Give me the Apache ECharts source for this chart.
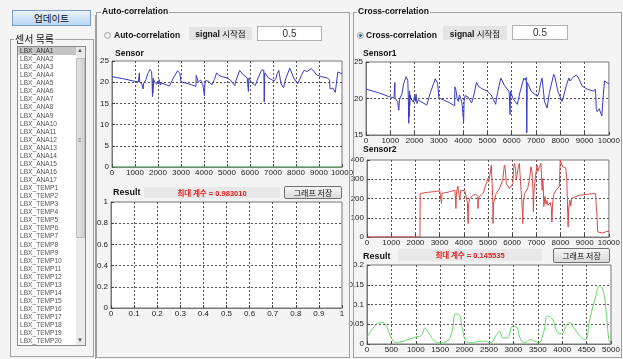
<!DOCTYPE html>
<html>
<head>
<meta charset="utf-8">
<script src="https://cdn.jsdelivr.net/npm/echarts@6/dist/echarts.min.js"></script>
<style>
  body { margin:0; width:623px; height:359px; overflow:hidden; background:#f4f4f4; position:relative;
         font-family:"Liberation Sans", Arial, "Noto Sans CJK KR", sans-serif; }
  .a { position:absolute; }
  .box { position:absolute; border:1px solid #a0a0a0; box-sizing:border-box; }
  .cap { position:absolute; background:#f4f4f4; padding:0 1px; font-weight:bold; font-size:8.5px; line-height:11px; color:#111; }
  .btn { position:absolute; box-sizing:border-box; border:1px solid #707070; border-radius:2px;
         background:linear-gradient(#f6f6f6,#dadada); font-family:"Noto Sans CJK KR",sans-serif; font-size:8px;
         text-align:center; color:#111; }
  .lbl { position:absolute; background:#e4e4e4; text-align:center; font-size:8.5px; color:#111; }
  .txt { position:absolute; box-sizing:border-box; background:#fff; border:1px solid #b0b0b0; text-align:center;
         font-size:10px; color:#333; }
  .res { position:absolute; background:#e8e8e8; text-align:center; color:#e02020; font-weight:bold; font-size:7.5px; }
  .title { position:absolute; font-weight:bold; font-size:8.5px; color:#111; }
  .radio { position:absolute; width:7px; height:7px; border-radius:50%; box-sizing:border-box;
           border:1px solid #a8a8a8; background:radial-gradient(#fff,#d8d8d8); }
  #list { position:absolute; left:17px; top:46px; width:69px; height:300px; background:#fff;
          border:1px solid #8a8a8a; box-sizing:border-box; overflow:hidden; }
  #list div { height:8.07px; line-height:8px; font-size:6.6px; color:#555; padding-left:2px; width:57px; white-space:nowrap; }
  #list div.sel { background:#c4c4c4; color:#333; }
  #chart { position:absolute; left:0; top:0; width:623px; height:359px; }
</style>
</head>
<body>
<div id="chart"></div>

<!-- left panel -->
<div class="a" style="left:12px;top:10px;width:79px;height:16px;box-sizing:border-box;border:1px solid #7a9cc6;background:linear-gradient(#eaf3fc,#b9d6f3);font-family:'Noto Sans CJK KR';font-size:9.5px;line-height:14px;text-align:center;color:#111;">업데이트</div>
<div class="box" style="left:10px;top:39px;width:84px;height:318px;"></div>
<div class="cap" style="left:14px;top:33px;font-family:'Noto Sans CJK KR';font-weight:normal;font-size:10px;">센서 목록</div>
<div id="list"></div>
<div class="a" style="left:76px;top:47px;width:9px;height:298px;background:#eaeaea;"></div>
<div class="a" style="left:76px;top:58px;width:9px;height:180px;box-sizing:border-box;border:1px solid #bdbdbd;background:linear-gradient(90deg,#e4e4e4,#d2d2d2);"></div>
<div class="a" style="left:77px;top:47px;font-size:6px;color:#555;">▲</div>
<div class="a" style="left:77px;top:337px;font-size:6px;color:#555;">▼</div>
<div class="a" style="left:78px;top:137px;font-size:6px;color:#777;line-height:6px;">≡</div>
<div class="a" style="left:95px;top:15px;width:1px;height:344px;background:#a0a0a0;"></div>

<!-- auto-correlation panel -->
<div class="box" style="left:96px;top:12px;width:254px;height:346px;"></div>
<div class="cap" style="left:101px;top:6px;">Auto-correlation</div>
<div class="radio" style="left:104px;top:32px;"></div>
<div class="title" style="left:114px;top:30px;">Auto-correlation</div>
<div class="lbl" style="left:189px;top:27px;width:63px;height:13px;line-height:13px;"><b>signal</b> <span style="font-family:'Noto Sans CJK KR'">시작점</span></div>
<div class="txt" style="left:257px;top:26px;width:65px;height:15px;line-height:13px;">0.5</div>
<div class="title" style="left:115px;top:48px;">Sensor</div>
<div class="title" style="left:113px;top:187px;font-size:9px;">Result</div>
<div class="res" style="left:144px;top:187px;width:136px;height:11px;line-height:11px;"><span style="font-family:'Noto Sans CJK KR'">최대 계수</span> = 0.983010</div>
<div class="btn" style="left:284px;top:186px;width:58px;height:13px;line-height:11px;">그래프 저장</div>

<!-- cross-correlation panel -->
<div class="box" style="left:353px;top:12px;width:269px;height:346px;"></div>
<div class="cap" style="left:357px;top:6px;">Cross-correlation</div>
<div class="radio" style="left:357px;top:32px;background:radial-gradient(#2a6f9a 30%,#cfe3ef 45%,#e8e8e8);"></div>
<div class="title" style="left:366px;top:30px;">Cross-correlation</div>
<div class="lbl" style="left:443px;top:26px;width:64px;height:14px;line-height:14px;"><b>signal</b> <span style="font-family:'Noto Sans CJK KR'">시작점</span></div>
<div class="txt" style="left:512px;top:25px;width:56px;height:15px;line-height:13px;">0.5</div>
<div class="title" style="left:363px;top:48px;">Sensor1</div>
<div class="title" style="left:363px;top:144px;">Sensor2</div>
<div class="title" style="left:363px;top:251px;font-size:9px;">Result</div>
<div class="res" style="left:398px;top:249px;width:144px;height:12px;line-height:12px;"><span style="font-family:'Noto Sans CJK KR'">최대 계수</span> = 0.145535</div>
<div class="btn" style="left:553px;top:248px;width:57px;height:15px;line-height:13px;">그래프 저장</div>

<script>
// sensor list
const sensorNames = [
  'LBX_ANA1','LBX_ANA2','LBX_ANA3','LBX_ANA4','LBX_ANA5','LBX_ANA6','LBX_ANA7','LBX_ANA8','LBX_ANA9',
  'LBX_ANA10','LBX_ANA11','LBX_ANA12','LBX_ANA13','LBX_ANA14','LBX_ANA15','LBX_ANA16','LBX_ANA17',
  'LBX_TEMP1','LBX_TEMP2','LBX_TEMP3','LBX_TEMP4','LBX_TEMP5','LBX_TEMP6','LBX_TEMP7','LBX_TEMP8',
  'LBX_TEMP9','LBX_TEMP10','LBX_TEMP11','LBX_TEMP12','LBX_TEMP13','LBX_TEMP14','LBX_TEMP15',
  'LBX_TEMP16','LBX_TEMP17','LBX_TEMP18','LBX_TEMP19','LBX_TEMP20'
];

// sensor 1 (temperature-like signal)
const sensorX = [0,500,1000,1150,1180,1190,1200,1250,1300,1350,1380,1420,1480,1550,1650,1700,1720,1740,1760,1770,
  1780,1790,1800,1820,1850,1900,1950,2000,2030,2060,2100,2150,2200,2500,2650,2850,2950,3000,3200,3450,
  3650,3660,3700,3750,3800,3850,3900,3950,4000,4020,4040,4080,4200,4350,4450,4550,4650,4800,5000,5150,
  5200,5340,5380,5550,5700,5880,5900,5930,5950,6050,6230,6350,6500,6560,6600,6620,6640,6700,6800,7050,
  7120,7190,7250,7350,7460,7550,7730,7780,7900,8070,8150,8250,8350,8400,8480,8520,8660,8750,8900,9100,
  9370,9420,9440,9460,9480,9520,9600,9710,9760,9820,9880,10000];
const sensorY = [21.3,20.8,20.2,20.1,20.0,22.2,20.0,19.9,19.6,18.4,19.8,20.2,20.6,22.0,23.0,23.2,22.5,20.5,16.6,19.5,
  17.5,21.0,19.0,20.5,20.0,19.8,19.5,20.3,19.6,20.6,19.3,19.8,19.6,19.1,20.8,22.7,22.1,20.1,19.8,19.4,
  19.0,21.6,21.2,20.0,19.6,20.5,20.0,19.4,19.2,16.8,19.6,20.4,20.2,19.4,20.6,22.2,21.6,21.3,21.0,20.5,
  20.4,19.2,20.2,22.8,21.8,21.0,20.6,17.8,21.0,20.0,19.2,21.0,22.8,22.5,22.9,15.3,22.2,21.8,21.0,20.3,
  20.8,22.1,22.8,19.6,18.7,20.8,23.3,22.9,21.0,19.6,20.5,21.8,22.8,22.4,22.5,22.9,23.2,22.8,21.7,21.3,
  21.0,20.8,21.3,20.5,18.5,18.2,18.6,17.6,20.0,22.4,22.3,22.0];

// sensor 2
const sensor2X = [0,2190,2200,2500,2800,3010,3060,3080,3100,3420,3630,3660,3675,3700,3760,3800,3840,3870,3950,4040,
  4120,4150,4180,4200,4250,4380,4500,4580,4590,4610,4800,4930,5000,5030,5070,5140,5180,5200,5210,5230,
  5340,5480,5610,5680,5720,5760,5890,6030,6060,6100,6140,6170,6200,6250,6300,6340,6370,6420,6440,6460,
  6510,6640,6710,6780,6820,6860,6880,6900,6960,7030,7060,7120,7190,7220,7240,7260,7290,7310,7360,7400,
  7440,7480,7530,7580,7620,7645,7670,7720,7810,7950,7990,8060,8090,8220,8260,8300,8315,8340,8385,8420,
  8460,8520,8770,9180,9450,9470,9480,9500,9510,9540,9730,9900,10000];
const sensor2Y = [0,0,226,232,236,240,238,174,226,235,243,200,148,235,264,220,191,240,245,243,
  238,180,70,170,200,217,222,210,148,205,226,278,304,285,313,374,383,200,70,175,
  226,252,296,374,350,278,252,278,357,383,350,300,320,360,383,300,243,150,70,170,
  226,250,296,365,340,250,130,230,310,374,340,360,383,300,243,304,260,157,210,170,
  190,165,165,180,150,78,170,220,243,261,400,400,365,357,300,120,52,150,191,160,
  200,209,217,223,226,180,157,130,104,26,21,28,30];

// cross-correlation result
const resultX = [0,123,226,295,397,500,603,740,877,1014,1116,1185,1288,1390,1493,1630,1733,1822,1890,1959,
  2041,2178,2315,2418,2521,2658,2712,2795,2863,3000,3068,3137,3240,3342,3445,3510,3616,3705,3808,3890,
  3979,4096,4151,4219,4370,4473,4562,4678,4767,4836,4904,4952,4986,5000];
const resultY = [0.017,0.040,0.053,0.055,0.046,0.015,0.004,0.007,0.013,0.018,0.022,0.040,0.023,0.007,0.003,0.006,0.028,0.076,0.074,0.036,
  0.007,0.003,0.007,0.007,0.003,0.024,0.032,0.015,0.015,0.045,0.043,0.015,0.003,0.011,0.007,0.003,0.028,0.071,0.061,0.032,
  0.026,0.049,0.055,0.045,0.019,0.011,0.061,0.116,0.147,0.137,0.078,0.015,0.003,0.002];

// auto sensor baseline (green, at zero)
const baseX = [0, 10000];
const baseY = [0, 0];

document.getElementById('list').innerHTML =
  sensorNames.map((n, i) => '<div' + (i === 0 ? ' class="sel"' : '') + '>' + n + '</div>').join('');

const zip = (xs, ys) => xs.map((x, i) => [x, ys[i]]);

const labelStyle = { color: '#222', fontSize: 8, fontFamily: '"Liberation Sans Narrow", "Liberation Sans", Arial' };
function axis(type, gi, min, max, interval) {
  return {
    type: 'value', gridIndex: gi, min, max, interval,
    axisLine: { show: true, onZero: false, lineStyle: { color: '#777' } },
    axisTick: { show: true, inside: true, length: 3, lineStyle: { color: '#444' } },
    axisLabel: Object.assign({ margin: type === 'x' ? 2 : 3, formatter: v => String(+v.toFixed(4)) }, labelStyle),
    splitLine: { show: true, showMinLine: false, showMaxLine: false,
                 lineStyle: { color: '#555', type: [2, 2], width: 1 } }
  };
}
function grid(left, top, width, height) {
  return { left, top, width, height, show: true, backgroundColor: '#fff', borderColor: '#777', borderWidth: 1 };
}
function line(gi, data, color, smooth) {
  return { type: 'line', xAxisIndex: gi, yAxisIndex: gi, data, showSymbol: false, smooth: !!smooth,
           lineStyle: { color, width: 1 }, itemStyle: { color }, silent: true };
}

const chart = echarts.init(document.getElementById('chart'));
chart.setOption({
  animation: false,
  grid: [
    grid(112, 61, 230, 106),
    grid(111, 202, 231, 106),
    grid(366, 62, 244, 73),
    grid(367, 160, 243, 77),
    grid(367, 265, 244, 79)
  ],
  xAxis: [
    axis('x', 0, 0, 10000, 1000),
    axis('x', 1, 0, 1, 0.1),
    axis('x', 2, 0, 10000, 1000),
    axis('x', 3, 0, 10000, 1000),
    axis('x', 4, 0, 5000, 500)
  ],
  yAxis: [
    axis('y', 0, 0, 25, 5),
    axis('y', 1, 0, 1, 0.2),
    axis('y', 2, 15, 25, 5),
    axis('y', 3, 0, 400, 100),
    axis('y', 4, 0, 0.2, 0.05)
  ],
  series: [
    line(0, zip(baseX, baseY), '#5ccc5c'),
    line(0, zip(sensorX, sensorY), '#3a3ac8'),
    line(1, [], '#3a3ac8'),
    line(2, zip(sensorX, sensorY), '#3a3ac8'),
    line(3, zip(sensor2X, sensor2Y), '#dd4848'),
    line(4, zip(resultX, resultY), '#62d862', true)
  ]
});
</script>
</body>
</html>
